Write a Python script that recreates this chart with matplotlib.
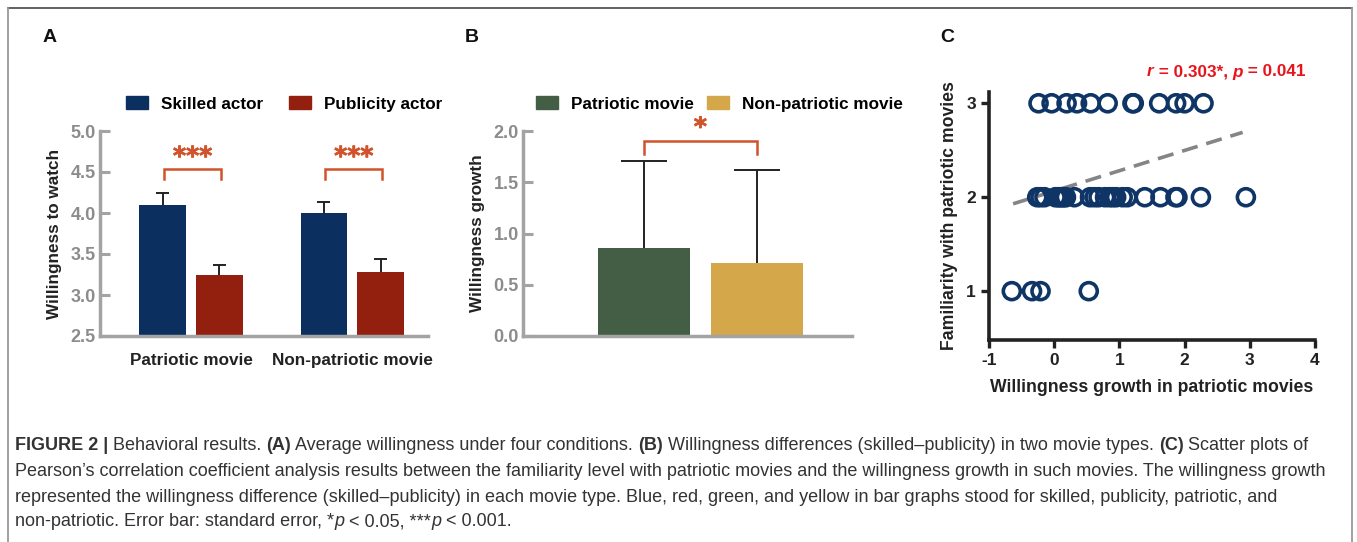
"""
Behavioral results figure: (A) willingness by actor type, (B) willingness
growth by movie type, (C) familiarity vs. willingness growth scatter.
"""
import numpy as np
import matplotlib.pyplot as plt
import matplotlib as mpl
import matplotlib.patheffects as pe
from matplotlib.lines import Line2D
from matplotlib.patches import Patch

mpl.rcParams.update({
    "font.family": ["Liberation Sans", "DejaVu Sans"],
    "font.size": 12,
    "axes.unicode_minus": False,
})

W, H = 1357, 542

# ---- panel A ----
movie_types = ["Patriotic movie", "Non-patriotic movie"]
actor_types = ["Skilled actor", "Publicity actor"]
willing_skilled = [4.10, 4.00]
willing_skilled_se = [0.15, 0.14]
willing_public = [3.24, 3.28]
willing_public_se = [0.13, 0.16]

# ---- panel B ----
growth_labels = ["Patriotic movie", "Non-patriotic movie"]
growth_mean = [0.855, 0.715]
growth_se = [0.85, 0.90]

# ---- panel C ----
fam3_growth = [-0.24, -0.04, 0.19, 0.35, 0.56, 0.82, 1.20, 1.22, 1.61,
               1.87, 2.00, 2.29]
fam2_growth = [-0.26, -0.21, -0.15, 0.02, 0.06, 0.09, 0.12, 0.15, 0.18,
               0.31, 0.55, 0.62, 0.68, 0.78, 0.85, 0.90, 0.95, 1.05, 1.12,
               1.39, 1.63, 1.86, 1.89, 2.25, 2.94]
fam1_growth = [-0.65, -0.34, -0.21, 0.53]
fit_x = [-0.63, 2.89]
fit_slope, fit_intercept = 0.216, 2.066

C_SKILLED = "#0b2f5e"
C_PUBLIC = "#93200f"
C_PAT = "#445e46"
C_NONPAT = "#d4a74a"
C_SIG = "#d0532b"
C_AXIS = "#a3a3a3"
C_TICK = "#8c8c8c"
C_DOT = "#0e3566"


def px_rect(x0, y0, x1, y1):
    return [x0 / W, 1 - y1 / H, (x1 - x0) / W, (y1 - y0) / H]


def gray_axes(ax):
    for s in ["top", "right"]:
        ax.spines[s].set_visible(False)
    for s in ["left", "bottom"]:
        ax.spines[s].set_color(C_AXIS)
        ax.spines[s].set_linewidth(2.5)
    ax.tick_params(axis="y", direction="in", length=7, width=2.2,
                   color=C_AXIS, labelcolor=C_TICK, labelsize=13, pad=3)
    for t in ax.get_yticklabels():
        t.set_fontweight("bold")
    ax.tick_params(axis="x", length=0, pad=12)


def up_errbars(ax, xs, means, ses, cap_half):
    tops = np.array(means) + np.array(ses)
    ax.vlines(xs, means, tops, color="#222", lw=1.4, zorder=1)
    ax.hlines(tops, np.array(xs) - cap_half, np.array(xs) + cap_half,
              color="#222", lw=1.4, zorder=1)


def bracket(ax, x0, x1, y_top, y_leg, label, y_lab, size):
    ax.plot([x0, x0, x1, x1], [y_leg, y_top, y_top, y_leg], color=C_SIG,
            lw=1.8, clip_on=False, solid_joinstyle="miter")
    ax.text((x0 + x1) / 2, y_lab, label, ha="center", va="center",
            color=C_SIG, fontsize=size, fontweight="bold", clip_on=False,
            family="DejaVu Sans",
            path_effects=[pe.withStroke(linewidth=0.6, foreground=C_SIG)])


fig = plt.figure(figsize=(W / 100, H / 100), dpi=100)
renderer = fig.canvas.get_renderer()


def rich_text(x_px, y_px, pieces, **kw):
    """Place text pieces side by side starting at pixel x."""
    for txt, wt, st in pieces:
        t = fig.text(x_px / W, 1 - y_px / H, txt, fontweight=wt, style=st,
                     ha="left", va="center", **kw)
        x_px += t.get_window_extent(renderer).width


# ---------------- A ----------------
axA = fig.add_axes(px_rect(100, 131, 428, 336))
x = np.arange(len(movie_types))
off, bw = 0.176, 0.29
axA.bar(x - off, willing_skilled, bw, color=C_SKILLED, zorder=2)
axA.bar(x + off, willing_public, bw, color=C_PUBLIC, zorder=2)
up_errbars(axA, x - off, willing_skilled, willing_skilled_se, 0.04)
up_errbars(axA, x + off, willing_public, willing_public_se, 0.04)
axA.set_ylim(2.5, 5.0)
axA.set_yticks([2.5, 3.0, 3.5, 4.0, 4.5, 5.0])
axA.set_xlim(-0.565, 1.47)
axA.set_xticks(x)
axA.set_xticklabels(movie_types, fontweight="bold", color="#222",
                    fontsize=12.3)
axA.set_ylabel("Willingness to watch", fontweight="bold", color="#222",
               fontsize=12.3, labelpad=6)
gray_axes(axA)
for i in x:
    bracket(axA, i - off + 0.01, i + off + 0.01, 4.54, 4.42, "***", 4.68, 18)
axA.legend(handles=[Patch(color=C_SKILLED, label=actor_types[0]),
                    Patch(color=C_PUBLIC, label=actor_types[1])],
           loc="lower left", bbox_to_anchor=(0.08, 1.095), ncol=2, frameon=False,
           prop={"weight": "bold", "size": 12.3}, handlelength=1.3,
           handleheight=0.75, columnspacing=1.5, handletextpad=0.75,
           borderaxespad=0, borderpad=0)

# ---------------- B ----------------
axB = fig.add_axes(px_rect(523, 131, 852, 336))
xb = np.arange(len(growth_labels))
axB.bar(xb, growth_mean, 0.82, color=[C_PAT, C_NONPAT], zorder=2)
up_errbars(axB, xb, growth_mean, growth_se, 0.205)
axB.set_ylim(0, 2.0)
axB.set_yticks([0.0, 0.5, 1.0, 1.5, 2.0])
axB.set_xlim(-1.08, 1.85)
axB.set_xticks([])
axB.set_ylabel("Willingness growth", fontweight="bold", color="#222",
               fontsize=12.3, labelpad=6)
gray_axes(axB)
bracket(axB, 0.0, 1.0, 1.905, 1.776, "*", 2.03, 18)
axB.legend(handles=[Patch(color=C_PAT, label=growth_labels[0]),
                    Patch(color=C_NONPAT, label=growth_labels[1])],
           loc="lower left", bbox_to_anchor=(0.04, 1.095), ncol=2, frameon=False,
           prop={"weight": "bold", "size": 12.3}, handlelength=1.3,
           handleheight=0.75, columnspacing=0.75, handletextpad=0.75,
           borderaxespad=0, borderpad=0)

# ---------------- C ----------------
axC = fig.add_axes(px_rect(989, 92, 1315, 340))
for fam, xs in [(3, fam3_growth), (2, fam2_growth), (1, fam1_growth)]:
    axC.scatter(xs, [fam] * len(xs), s=150, facecolors="none",
                edgecolors=C_DOT, linewidths=2.6, zorder=3)
fx = np.array(fit_x)
axC.plot(fx, fit_intercept + fit_slope * fx, color="#858585", lw=2.6,
         dashes=(4.5, 2.5), zorder=2)
axC.set_xlim(-1, 4)
axC.set_ylim(0.48, 3.12)
axC.set_xticks([-1, 0, 1, 2, 3, 4])
axC.set_yticks([1, 2, 3])
for s in ["top", "right"]:
    axC.spines[s].set_visible(False)
for s in ["left", "bottom"]:
    axC.spines[s].set_color("#222")
    axC.spines[s].set_linewidth(2.6)
axC.tick_params(direction="out", length=6, width=2.4, color="#222",
                labelcolor="#222", labelsize=12.5)
for t in axC.get_xticklabels() + axC.get_yticklabels():
    t.set_fontweight("bold")
axC.set_xlabel("Willingness growth in patriotic movies", fontweight="bold",
               color="#222", fontsize=12.7, labelpad=8)
axC.set_ylabel("Familiarity with patriotic movies", fontweight="bold",
               color="#222", fontsize=12.7, labelpad=6)
rich_text(1147, 72, [("r", "bold", "italic"), (" = 0.303*, ", "bold", "normal"),
                     ("p", "bold", "italic"), (" = 0.041", "bold", "normal")],
          color="#e8141c", fontsize=12.3)

# ---------------- panel letters ----------------
for lab, xp in [("A", 50), ("B", 472), ("C", 947)]:
    fig.text(xp / W, 1 - 37 / H, lab, fontsize=14, fontweight="bold",
             ha="center", va="center", color="#111")

# ---------------- frame ----------------
fig.add_artist(Line2D([8 / W, 1352 / W], [1 - 8 / H] * 2, color="#555",
                      lw=1.3, transform=fig.transFigure))
fig.add_artist(Line2D([8 / W] * 2, [0, 1 - 8 / H], color="#999",
                      lw=1.3, transform=fig.transFigure))
fig.add_artist(Line2D([1352 / W] * 2, [0, 1 - 8 / H], color="#999",
                      lw=1.3, transform=fig.transFigure))

# ---------------- caption ----------------
caption = [
    [("FIGURE 2 |", "bold", "normal"), (" Behavioral results. ", "normal", "normal"),
     ("(A)", "bold", "normal"),
     (" Average willingness under four conditions. ", "normal", "normal"),
     ("(B)", "bold", "normal"),
     (" Willingness differences (skilled\u2013publicity) in two movie types. ",
      "normal", "normal"),
     ("(C)", "bold", "normal"), (" Scatter plots of", "normal", "normal")],
    [("Pearson\u2019s correlation coefficient analysis results between the "
      "familiarity level with patriotic movies and the willingness growth in "
      "such movies. The willingness growth", "normal", "normal")],
    [("represented the willingness difference (skilled\u2013publicity) in each "
      "movie type. Blue, red, green, and yellow in bar graphs stood for skilled, "
      "publicity, patriotic, and", "normal", "normal")],
    [("non-patriotic. Error bar: standard error, *", "normal", "normal"),
     ("p", "normal", "italic"), (" < 0.05, ***", "normal", "normal"),
     ("p", "normal", "italic"), (" < 0.001.", "normal", "normal")],
]
cap_y = [446, 471, 497, 522]
for line, yp in zip(caption, cap_y):
    rich_text(15, yp, line, fontsize=13.0, color="#333")

fig.savefig("out.png", dpi=100)
